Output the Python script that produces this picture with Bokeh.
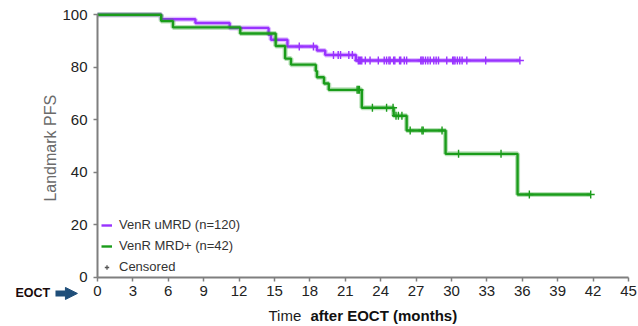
import numpy as np
from bokeh.plotting import figure
from bokeh.models import (Range1d, Legend, LegendItem, FixedTicker, ColumnDataSource,
                          Label, Arrow, NormalHead)
from bokeh.embed import file_html
from bokeh.resources import INLINE

# Kaplan-Meier step curves (time in months after EOCT, landmark PFS in %)
umrd_times = [0, 5.4, 8.3, 11.2, 14.5, 14.7, 16.1, 18.6, 19.3, 21.9, 35.8]
umrd_surv = [100, 98.3, 96.9, 95.0, 92.4, 90.5, 87.9, 86.4, 84.7, 82.6, 82.6]
umrd_censored = [17.1, 18.3, 20.0, 20.4, 20.6, 21.3, 21.6, 22.1, 22.2, 22.3, 22.4,
                 22.7, 23.1, 23.8, 24.3, 24.5, 24.7, 24.8, 25.1, 25.2, 25.6, 25.7,
                 26.0, 26.2, 27.4, 27.5, 27.6, 27.8, 28.0, 28.2, 28.5, 28.7, 28.9,
                 29.6, 30.1, 30.2, 30.3, 30.5, 30.7, 30.9, 31.3, 32.9, 35.8]

mrd_times = [0, 5.4, 6.4, 12.1, 15.1, 15.9, 16.4, 18.5, 18.6, 19.2, 19.6, 22.4,
             25.1, 26.2, 29.5, 35.6, 41.8]
mrd_surv = [100, 97.6, 95.2, 92.9, 88.1, 83.3, 81.0, 78.6, 76.2, 73.8, 71.4, 64.6,
            61.5, 55.9, 47.0, 31.5, 31.5]
mrd_censored = [22.0, 22.1, 22.2, 23.3, 24.5, 25.05, 25.3, 25.5, 25.8, 26.5, 27.5,
                27.6, 29.2, 30.6, 34.2, 36.6, 41.8]

series_labels = ["VenR uMRD (n=120)", "VenR MRD+ (n=42)"]
censor_label = "Censored"
x_ticks = list(range(0, 46, 3))
y_ticks = [0, 20, 40, 60, 80, 100]

PURPLE = "#9933ff"
GREEN = "#1a9c1a"
AXIS_GREY = "#7f7f7f"
ARROW_BLUE = "#1f4e79"
FONT = "Liberation Sans"


def level_at(times, surv, t):
    """Survival level of a right-continuous step curve at time t."""
    idx = np.searchsorted(np.asarray(times), t, side="right") - 1
    return [surv[i] for i in np.atleast_1d(idx)]


# The frame spans the whole canvas; both axes are pinned at the origin so that
# the annotations around them (EOCT marker, x title) stay inside the frame.
p = figure(width=638, height=326, output_backend="svg", toolbar_location=None,
           x_range=Range1d(-8.22, 45.85), y_range=Range1d(-18.8, 105.45),
           min_border=0)
p.outline_line_color = None
p.xgrid.visible = False
p.ygrid.visible = False

renderers = []
for times, surv, cens, color in [(umrd_times, umrd_surv, umrd_censored, PURPLE),
                                 (mrd_times, mrd_surv, mrd_censored, GREEN)]:
    src = ColumnDataSource(dict(t=times, s=surv))
    p.step("t", "s", source=src, mode="after", line_color=color, line_width=5,
           line_alpha=0.3)
    r = p.step("t", "s", source=src, mode="after", line_color=color, line_width=2.4)
    p.scatter(cens, level_at(times, surv, cens), marker="cross", size=8,
              line_color=color, line_width=1.4)
    renderers.append(r)

# legend-only glyph (no visible data)
censor_glyph = p.scatter([np.nan], [np.nan], marker="cross", size=9,
                         line_color="#555555", line_width=1.3)

legend = Legend(items=[LegendItem(label=series_labels[0], renderers=[renderers[0]]),
                       LegendItem(label=series_labels[1], renderers=[renderers[1]]),
                       LegendItem(label=censor_label, renderers=[censor_glyph])],
                location=(101, 52), glyph_width=11, glyph_height=12, label_standoff=7,
                spacing=6, padding=0, margin=0, border_line_alpha=0,
                background_fill_alpha=0, label_text_font=FONT,
                label_text_font_size="13px", label_text_color="#333333")
p.add_layout(legend)

for ax in (p.xaxis[0], p.yaxis[0]):
    ax.fixed_location = 0
    ax.axis_line_color = AXIS_GREY
    ax.axis_line_width = 2
    ax.major_tick_line_color = AXIS_GREY
    ax.major_tick_line_width = 1.5
    ax.major_tick_in = 0
    ax.major_tick_out = 4
    ax.minor_tick_line_color = None
    ax.major_label_text_color = "#222222"
    ax.major_label_text_font = FONT
    ax.major_label_text_font_size = "15px"

p.xaxis.ticker = FixedTicker(ticks=x_ticks)
p.xaxis.bounds = (0, 45)
p.xaxis.major_label_standoff = 5

p.yaxis.ticker = FixedTicker(ticks=y_ticks)
p.yaxis.bounds = (0, 100)
p.yaxis.major_label_standoff = 6
p.yaxis.axis_label = "Landmark  PFS"
p.yaxis.axis_label_text_font = FONT
p.yaxis.axis_label_text_font_style = "normal"
p.yaxis.axis_label_text_font_size = "16px"
p.yaxis.axis_label_text_color = "#6b6b6b"
p.yaxis.axis_label_standoff = 0

# x-axis title: plain "Time" followed by a bold qualifier
p.add_layout(Label(x=14.49, y=-14.6, text="Time", text_baseline="middle",
                   text_font=FONT, text_font_size="15px", text_color="#1a1a1a"))
p.add_layout(Label(x=18.05, y=-14.6, text="after EOCT (months)",
                   text_baseline="middle", text_font=FONT, text_font_size="15px",
                   text_font_style="bold", text_color="#111111"))

# "EOCT" with an arrow pointing at time zero
p.add_layout(Label(x=-6.95, y=-6.2, text="EOCT", text_baseline="middle",
                   text_font=FONT, text_font_size="12.5px", text_font_style="bold",
                   text_color="#1a0a0a"))
p.add_layout(Arrow(x_start=-3.56, y_start=-6.2, x_end=-1.7, y_end=-6.2,
                   line_color=ARROW_BLUE, line_width=6,
                   end=NormalHead(size=12, fill_color=ARROW_BLUE,
                                  line_color=ARROW_BLUE)))

open("out.html", "w").write(file_html(p, INLINE))
